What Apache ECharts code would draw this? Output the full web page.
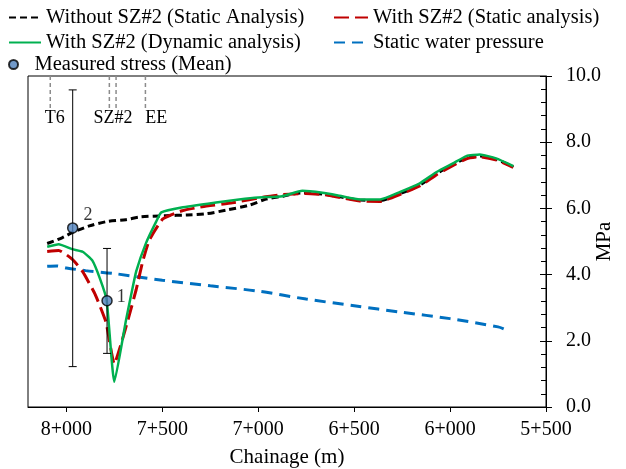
<!DOCTYPE html>
<html>
<head>
<meta charset="utf-8">
<script src="https://cdn.jsdelivr.net/npm/echarts@6/dist/echarts.min.js"></script>
<style>
html, body { margin: 0; padding: 0; background: #fff; }
#chart { width: 626px; height: 469px; }
</style>
</head>
<body>
<div id="chart"></div>
<script>
// chainage (m) -> stress (MPa)
var withoutSZ2 = [[8100,4.94],[8020,5.12],[7965,5.28],[7880,5.47],[7790,5.6],[7690,5.66],[7620,5.74],[7480,5.78],[7370,5.8],[7270,5.84],[7165,5.95],[7045,6.1],[6960,6.28],[6870,6.37],[6770,6.47],[6665,6.43],[6575,6.35],[6470,6.25],[6365,6.24],[6260,6.45],[6160,6.7],[6070,7.05],[5985,7.32],[5915,7.52],[5845,7.58],[5760,7.48],[5670,7.25]];
var withSZ2Static = [[8100,4.7],[8040,4.73],[7970,4.47],[7915,4.09],[7850,3.4],[7793,2.55],[7750,1.3],[7715,1.9],[7671,2.8],[7636,3.55],[7602,4.4],[7567,5.05],[7497,5.68],[7396,5.93],[7292,6.05],[7135,6.17],[6961,6.35],[6870,6.42],[6753,6.45],[6665,6.42],[6575,6.33],[6470,6.22],[6365,6.21],[6262,6.42],[6158,6.68],[6070,7.02],[5984,7.3],[5914,7.5],[5844,7.56],[5757,7.46],[5671,7.24]];
var withSZ2Dynamic = [[8100,4.84],[8040,4.92],[7970,4.77],[7915,4.69],[7865,4.43],[7825,3.88],[7790,3.23],[7750,0.76],[7690,2.6],[7662,3.4],[7636,4.1],[7585,4.95],[7532,5.6],[7505,5.88],[7400,6.03],[7220,6.18],[7100,6.27],[7000,6.33],[6875,6.37],[6770,6.53],[6665,6.47],[6575,6.38],[6470,6.27],[6365,6.27],[6260,6.5],[6160,6.75],[6070,7.1],[5985,7.36],[5915,7.58],[5845,7.63],[5760,7.51],[5670,7.28]];
var waterPressure = [[8100,4.25],[8050,4.26],[8000,4.2],[7900,4.12],[7750,4.03],[7500,3.83],[7250,3.66],[7000,3.5],[6750,3.26],[6500,3.06],[6250,2.86],[6000,2.67],[5750,2.42],[5720,2.36]];

var measuredAt = [7967, 7788];
var measuredMean = [5.41, 3.21];
var measuredLow = [1.22, 1.62];
var measuredHigh = [9.58, 4.79];
var measuredLabel = ['2', '1'];

var markerLineAt = [8084, 7776, 7741, 7588];
var markerNames = ['T6', 'SZ#2', 'EE'];
var markerNameAt = [8060, 7757, 7532];

var chainageTicks = [8000, 7500, 7000, 6500, 6000, 5500];

var FONT = '"Liberation Serif", "Times New Roman", serif';
var dom = document.getElementById('chart');
var myChart = echarts.init(dom);

function fmtChainage(v) {
    var km = Math.floor(v / 1000);
    var m = String(v - km * 1000);
    while (m.length < 3) m = '0' + m;
    return km + '+' + m;
}

var labelOffsets = [[1, -13], [0, -3]];
var measuredData = measuredAt.map(function (c, i) {
    return { value: [c, measuredMean[i]], label: { offset: labelOffsets[i] } };
});
var errorData = measuredAt.map(function (c, i) {
    return [c, measuredLow[i], measuredHigh[i]];
});

var legendText = { fontFamily: FONT, fontSize: 20.5, color: '#000' };
function legendAt(name, left, top, w, h, isLine) {
    var l = { data: [name], left: left, top: top, padding: 0, itemWidth: w, itemHeight: h || 14,
              textStyle: legendText, selectedMode: false };
    if (isLine) l.itemStyle = { opacity: 0 };
    return l;
}

option = {
    animation: false,
    textStyle: { fontFamily: FONT },
    grid: {
        left: 28, right: 80, top: 76, bottom: 62,
        outerBoundsMode: 'none',
        show: true, borderColor: '#000', borderWidth: 1
    },
    legend: [
        legendAt('Without SZ#2 (Static Analysis)', 8, 7, 32, 14, true),
        legendAt('With SZ#2 (Static analysis)', 333, 7, 34, 14, true),
        legendAt('With SZ#2 (Dynamic analysis)', 8, 32, 32, 14, true),
        legendAt('Static water pressure', 333, 32, 34, 14, true),
        legendAt('Measured stress (Mean)', 8, 54, 32, 9, false)
    ],
    xAxis: {
        type: 'value',
        inverse: true,
        min: 5500,
        max: 8200,
        interval: 500,
        name: 'Chainage (m)',
        nameLocation: 'middle',
        nameGap: 40,
        nameTextStyle: { fontFamily: FONT, fontSize: 21, color: '#000' },
        axisLine: { show: true, lineStyle: { color: '#000', width: 1 } },
        axisTick: { show: true, length: 5, customValues: chainageTicks, lineStyle: { color: '#000' } },
        axisLabel: {
            customValues: chainageTicks,
            formatter: fmtChainage,
            margin: 13,
            fontFamily: FONT, fontSize: 20, color: '#000'
        },
        splitLine: { show: false }
    },
    yAxis: [{
        type: 'value',
        position: 'right',
        min: 0,
        max: 10,
        interval: 2,
        name: 'MPa',
        nameLocation: 'middle',
        nameRotate: 90,
        nameGap: 48,
        nameMoveOverlap: false,
        nameTextStyle: { fontFamily: FONT, fontSize: 21, color: '#000' },
        axisLine: { show: true, lineStyle: { color: '#000', width: 1 } },
        axisTick: { show: true, inside: false, length: 6, lineStyle: { color: '#000' } },
        axisLabel: {
            formatter: function (v) { return v.toFixed(1); },
            margin: 20,
            fontFamily: FONT, fontSize: 20, color: '#000'
        },
        splitLine: { show: false }
    }, {
        type: 'value',
        position: 'right',
        min: 0,
        max: 10,
        interval: 2,
        axisLine: { show: false },
        axisTick: { show: true, inside: true, length: 6, lineStyle: { color: '#000' } },
        minorTick: { show: true, splitNumber: 5, length: 5, lineStyle: { color: '#000' } },
        axisLabel: { show: false },
        splitLine: { show: false }
    }],
    series: [{
        name: 'Static water pressure',
        type: 'line',
        data: waterPressure,
        symbol: 'none',
        smooth: 0.3,
        lineStyle: { color: '#0070c0', width: 3, type: [11, 7] },
        itemStyle: { color: '#0070c0' },
        z: 2
    }, {
        name: 'Without SZ#2 (Static Analysis)',
        type: 'line',
        data: withoutSZ2,
        symbol: 'none',
        smooth: 0.3,
        lineStyle: { color: '#000', width: 3, type: [7, 4] },
        itemStyle: { color: '#000' },
        z: 3
    }, {
        name: 'With SZ#2 (Static analysis)',
        type: 'line',
        data: withSZ2Static,
        symbol: 'none',
        smooth: 0.15,
        lineStyle: { color: '#c00000', width: 3, type: [15, 6] },
        itemStyle: { color: '#c00000' },
        z: 4
    }, {
        name: 'With SZ#2 (Dynamic analysis)',
        type: 'line',
        data: withSZ2Dynamic,
        symbol: 'none',
        smooth: 0.15,
        lineStyle: { color: '#00b050', width: 2.5 },
        itemStyle: { color: '#00b050' },
        z: 5
    }, {
        type: 'custom',
        silent: true,
        data: errorData,
        z: 6,
        renderItem: function (params, api) {
            var c = api.value(0);
            var lo = api.coord([c, api.value(1)]);
            var hi = api.coord([c, api.value(2)]);
            var st = { stroke: '#000', lineWidth: 1 };
            return {
                type: 'group',
                children: [
                    { type: 'line', shape: { x1: lo[0], y1: lo[1], x2: hi[0], y2: hi[1] }, style: st },
                    { type: 'line', shape: { x1: lo[0] - 4, y1: lo[1], x2: lo[0] + 4, y2: lo[1] }, style: st },
                    { type: 'line', shape: { x1: hi[0] - 4, y1: hi[1], x2: hi[0] + 4, y2: hi[1] }, style: st }
                ]
            };
        }
    }, {
        name: 'Measured stress (Mean)',
        type: 'scatter',
        data: measuredData,
        symbol: 'circle',
        symbolSize: 10,
        itemStyle: { color: '#4f81bd', borderColor: '#000', borderWidth: 1.5 },
        label: {
            show: true,
            position: 'right',
            distance: 4,
            formatter: function (p) { return measuredLabel[p.dataIndex]; },
            fontFamily: FONT, fontSize: 18, color: '#000'
        },
        z: 8
    }, {
        // location markers hanging from the top border
        type: 'custom',
        silent: true,
        data: markerLineAt.map(function (c) { return [c, 10]; }),
        z: 6,
        renderItem: function (params, api) {
            var c = api.value(0);
            var a = api.coord([c, 10]);
            var b = api.coord([c, 9]);
            return { type: 'line', shape: { x1: a[0], y1: a[1], x2: b[0], y2: b[1] },
                     style: { stroke: '#8c8c8c', lineWidth: 1.5, lineDash: [4, 3] } };
        }
    }, {
        type: 'custom',
        silent: true,
        data: markerNameAt.map(function (c) { return [c, 8.73]; }),
        z: 6,
        renderItem: function (params, api) {
            var p = api.coord([api.value(0), api.value(1)]);
            return { type: 'text', x: p[0], y: p[1],
                     style: { text: markerNames[params.dataIndex], fill: '#000',
                              font: '18px ' + FONT, align: 'center', verticalAlign: 'middle' } };
        }
    }]
};

if (option && typeof option === 'object') {
    myChart.setOption(option, true);
}
window.addEventListener('resize', function () {
    myChart.resize();
});
</script>
</body>
</html>
